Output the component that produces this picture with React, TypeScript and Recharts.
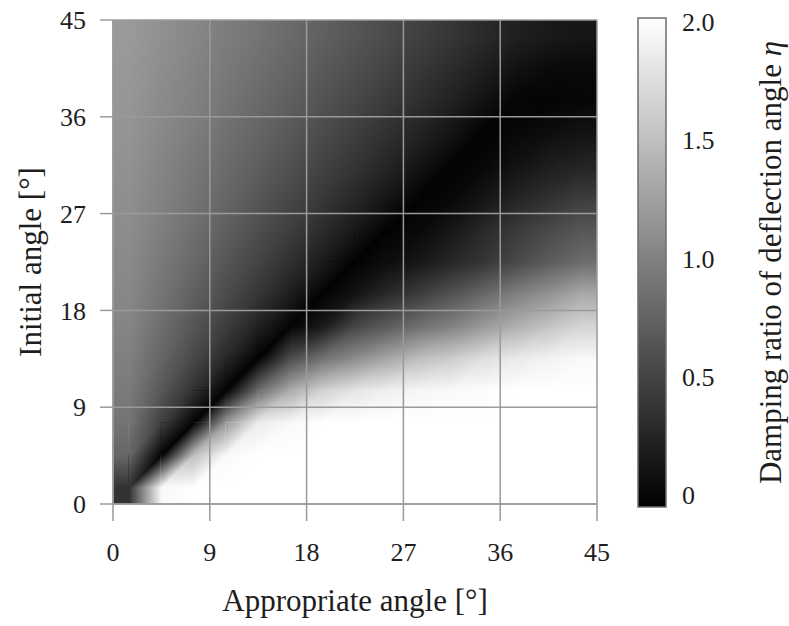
import { ComposedChart, Scatter, XAxis, YAxis, CartesianGrid, ReferenceArea } from "recharts";

// axis ticks (degrees)
const ANGLE_TICKS = [0, 9, 18, 27, 36, 45];
// sample positions, appropriate angle (x) and initial angle (y, top row first)
const CELL_X = [1.5, 4.5, 7.5, 10.5, 13.5, 16.5, 19.5, 22.5, 25.5, 28.5, 31.5, 34.5, 37.5, 40.5, 43.5];
const CELL_Y = [43.5, 40.5, 37.5, 34.5, 31.5, 28.5, 25.5, 22.5, 19.5, 16.5, 13.5, 10.5, 7.5, 4.5, 1.5];
// damping ratio, one row per CELL_Y
const ETA_ROWS = [
  [1.21, 1.13, 1.06, 0.98, 0.91, 0.83, 0.75, 0.67, 0.59, 0.5, 0.42, 0.33, 0.25, 0.2, 0.17],
  [1.19, 1.11, 1.03, 0.95, 0.87, 0.79, 0.7, 0.62, 0.53, 0.44, 0.34, 0.24, 0.14, 0.08, 0.07],
  [1.18, 1.09, 1.01, 0.92, 0.83, 0.74, 0.65, 0.56, 0.46, 0.36, 0.26, 0.14, 0.04, 0.03, 0.05],
  [1.16, 1.07, 0.98, 0.88, 0.79, 0.69, 0.59, 0.49, 0.38, 0.27, 0.15, 0.02, 0.06, 0.1, 0.15],
  [1.14, 1.04, 0.94, 0.84, 0.74, 0.63, 0.52, 0.41, 0.29, 0.16, 0.02, 0.06, 0.14, 0.22, 0.28],
  [1.12, 1.02, 0.91, 0.8, 0.68, 0.56, 0.44, 0.31, 0.17, 0.02, 0.06, 0.16, 0.28, 0.37, 0.47],
  [1.1, 0.99, 0.87, 0.74, 0.61, 0.48, 0.34, 0.19, 0.02, 0.07, 0.17, 0.32, 0.45, 0.57, 0.67],
  [1.08, 0.95, 0.82, 0.67, 0.53, 0.37, 0.21, 0.02, 0.1, 0.18, 0.3, 0.42, 0.57, 0.72, 0.85],
  [1.06, 0.91, 0.75, 0.59, 0.42, 0.23, 0.02, 0.15, 0.33, 0.48, 0.65, 0.82, 1.0, 1.15, 1.32],
  [1.04, 0.86, 0.67, 0.48, 0.26, 0.03, 0.2, 0.55, 0.72, 0.88, 1.02, 1.2, 1.38, 1.53, 1.67],
  [1.0, 0.79, 0.56, 0.31, 0.02, 0.6, 0.9, 1.1, 1.3, 1.5, 1.6, 1.75, 1.83, 1.9, 1.95],
  [0.96, 0.68, 0.38, 0.02, 0.85, 1.35, 1.65, 1.8, 1.88, 1.93, 1.96, 1.98, 2.0, 2.0, 2.0],
  [0.9, 0.5, 0.02, 1.2, 1.85, 1.95, 2.0, 2.0, 2.0, 2.0, 2.0, 2.0, 2.0, 2.0, 2.0],
  [0.8, 0.02, 1.5, 1.95, 2.0, 2.0, 2.0, 2.0, 2.0, 2.0, 2.0, 2.0, 2.0, 2.0, 2.0],
  [0.4, 1.95, 2.0, 2.0, 2.0, 2.0, 2.0, 2.0, 2.0, 2.0, 2.0, 2.0, 2.0, 2.0, 2.0],
];
// colour bar
const ETA_TICKS = [0, 0.5, 1, 1.5, 2];
const ETA_RANGE = [-0.051, 2.017];

// one entry per square between four neighbouring samples
const squares: any[] = [];
for (let r = 0; r < CELL_Y.length - 1; r++) {
  for (let c = 0; c < CELL_X.length - 1; c++) {
    squares.push({
      x: (CELL_X[c] + CELL_X[c + 1]) / 2,
      y: (CELL_Y[r] + CELL_Y[r + 1]) / 2,
      r,
      c,
      ul: ETA_ROWS[r][c],
      ur: ETA_ROWS[r][c + 1],
      ll: ETA_ROWS[r + 1][c],
      lr: ETA_ROWS[r + 1][c + 1],
    });
  }
}
const LAST = CELL_X.length - 2;

const W = 789;
const H = 626;
const PLOT = 484;
const CELL = (PLOT * 3) / 45; // px between samples
const SERIF = '"Liberation Serif", "Times New Roman", serif';
const TEXT = "#1e1e1e";
const LINE = "#9a9a9a";

const gray = (v: number) => {
  const g = Math.round((Math.max(0, Math.min(2, v)) / 2) * 255);
  return `rgb(${g},${g},${g})`;
};

// keep the part of a polygon where x + y <= k
const clipHalf = (pts: number[][], k: number) => {
  const out: number[][] = [];
  for (let i = 0; i < pts.length; i++) {
    const a = pts[i];
    const b = pts[(i + 1) % pts.length];
    const da = a[0] + a[1] - k;
    const db = b[0] + b[1] - k;
    if (da <= 0) out.push(a);
    if ((da < 0 && db > 0) || (da > 0 && db < 0)) {
      const t = da / (da - db);
      out.push([a[0] + t * (b[0] - a[0]), a[1] + t * (b[1] - a[1])]);
    }
  }
  return out;
};

// linear shading: value v0 at (px,py), slope (gx,gy) per px
const shade = (id: string, px: number, py: number, v0: number, gx: number, gy: number) => {
  const gg = gx * gx + gy * gy;
  if (gg < 1e-10) return { def: null, fill: gray(v0) };
  const a = -v0 / gg;
  const b = (2 - v0) / gg;
  return {
    def: (
      <linearGradient key={id} id={id} gradientUnits="userSpaceOnUse" x1={px + gx * a} y1={py + gy * a} x2={px + gx * b} y2={py + gy * b}>
        <stop offset="0" stopColor="#000" />
        <stop offset="1" stopColor="#fff" />
      </linearGradient>
    ),
    fill: `url(#${id})`,
  };
};

const HeatSquare = (props: any) => {
  const { cx, cy, payload: p } = props;
  const s = CELL;
  const x0 = cx - s / 2;
  const x1 = cx + s / 2;
  const yT = cy - s / 2;
  const yB = cy + s / 2;
  const pad = 24;
  const e = 0.6;
  const id = `${p.r}_${p.c}`;
  const upper = clipHalf([[x0 - e, yT - e], [x1 + e, yT - e], [x1 + e, yB + e], [x0 - e, yB + e]], x0 + yB);
  const A = shade(`hA${id}`, x0, yT, p.ul, (p.ur - p.ul) / s, (p.ll - p.ul) / s);
  const B = shade(`hB${id}`, x1, yB, p.lr, (p.lr - p.ll) / s, (p.lr - p.ur) / s);

  // edge samples are carried out to the plot border
  const defs = [A.def, B.def];
  const strips: any[] = [];
  const strip = (key: string, x: number, y: number, w: number, h: number, sh: any) => {
    defs.push(sh.def);
    strips.push(<rect key={key} x={x} y={y} width={w} height={h} fill={sh.fill} />);
  };
  if (p.c === 0) strip("l", x0 - pad, yT - e, pad + e, s + 2 * e, shade(`sL${id}`, x0, yT, p.ul, 0, (p.ll - p.ul) / s));
  if (p.c === LAST) strip("r", x1 - e, yT - e, pad + e, s + 2 * e, shade(`sR${id}`, x1, yT, p.ur, 0, (p.lr - p.ur) / s));
  if (p.r === 0) strip("t", x0 - e, yT - pad, s + 2 * e, pad + e, shade(`sT${id}`, x0, yT, p.ul, (p.ur - p.ul) / s, 0));
  if (p.r === LAST) strip("b", x0 - e, yB - e, s + 2 * e, pad + e, shade(`sB${id}`, x0, yB, p.ll, (p.lr - p.ll) / s, 0));
  if (p.c === 0 && p.r === 0) strips.push(<rect key="c1" x={x0 - pad} y={yT - pad} width={pad + e} height={pad + e} fill={gray(p.ul)} />);
  if (p.c === LAST && p.r === 0) strips.push(<rect key="c2" x={x1 - e} y={yT - pad} width={pad + e} height={pad + e} fill={gray(p.ur)} />);
  if (p.c === 0 && p.r === LAST) strips.push(<rect key="c3" x={x0 - pad} y={yB - e} width={pad + e} height={pad + e} fill={gray(p.ll)} />);
  if (p.c === LAST && p.r === LAST) strips.push(<rect key="c4" x={x1 - e} y={yB - e} width={pad + e} height={pad + e} fill={gray(p.lr)} />);

  return (
    <g>
      <defs>{defs}</defs>
      {strips}
      <rect x={x0 - e} y={yT - e} width={s + 2 * e} height={s + 2 * e} fill={B.fill} />
      <polygon points={upper.map((q) => q.join(",")).join(" ")} fill={A.fill} />
    </g>
  );
};

const tickStyle = { fill: TEXT, fontSize: 26, fontFamily: SERIF };

const XTitle = (props: any) => {
  const vb = props.viewBox;
  return (
    <text x={vb.x + vb.width / 2} y={611} textAnchor="middle" fill={TEXT} fontSize={31} fontFamily={SERIF}>
      Appropriate angle [°]
    </text>
  );
};

const YTitle = (props: any) => {
  const vb = props.viewBox;
  const cx = 30;
  const cy = vb.y + vb.height / 2;
  return (
    <text x={cx} y={cy} transform={`rotate(-90, ${cx}, ${cy})`} textAnchor="middle" dominantBaseline="central" fill={TEXT} fontSize={31} fontFamily={SERIF}>
      Initial angle [°]
    </text>
  );
};

const BarTitle = (props: any) => {
  const vb = props.viewBox;
  const cx = vb.x + vb.width - 19;
  const cy = vb.y + vb.height / 2;
  return (
    <text x={cx} y={cy} transform={`rotate(-90, ${cx}, ${cy})`} textAnchor="middle" dominantBaseline="central" fill={TEXT} fontSize={31} fontFamily={SERIF}>
      Damping ratio of deflection angle <tspan fontStyle="italic">η</tspan>
    </text>
  );
};

const layer = { position: "absolute" as const, left: 0, top: 0, width: W, height: H };

export default function App() {
  return (
    <div style={{ ...layer, background: "#fff", overflow: "hidden" }}>
      <svg width={0} height={0} style={{ position: "absolute" }}>
        <defs>
          <linearGradient id="etaScale" x1="0" y1="1" x2="0" y2="0">
            <stop offset="0%" stopColor="#000" />
            <stop offset="100%" stopColor="#fff" />
          </linearGradient>
        </defs>
      </svg>

      {/* heat map, clipped to the plot area */}
      <div style={{ ...layer, clipPath: "inset(20px 192px 122px 113px)" }}>
        <ComposedChart width={W} height={H} data={squares} margin={{ top: 20, right: 192, bottom: 122, left: 113 }}>
          <XAxis type="number" dataKey="x" domain={[0, 45]} hide />
          <YAxis type="number" dataKey="y" domain={[0, 45]} hide />
          <Scatter data={squares} shape={HeatSquare} isAnimationActive={false} />
        </ComposedChart>
      </div>

      {/* grid, axes and titles on top */}
      <div style={layer}>
        <ComposedChart width={W} height={H} data={squares} margin={{ top: 20, right: 192, bottom: 0, left: 0 }}>
          <CartesianGrid stroke={LINE} strokeWidth={1.5} fill="none" />
          <XAxis
            type="number"
            dataKey="x"
            domain={[0, 45]}
            ticks={ANGLE_TICKS}
            height={122}
            tickSize={17}
            tickMargin={22}
            stroke={LINE}
            strokeWidth={1.5}
            tick={tickStyle}
            label={{ content: XTitle }}
          />
          <YAxis
            type="number"
            dataKey="y"
            domain={[0, 45]}
            ticks={ANGLE_TICKS}
            width={113}
            tickSize={13}
            tickMargin={14}
            stroke={LINE}
            strokeWidth={1.5}
            tick={tickStyle}
            label={{ content: YTitle }}
          />
          <Scatter data={squares} shape={() => <g />} isAnimationActive={false} />
        </ComposedChart>
      </div>

      {/* colour bar */}
      <div style={layer}>
        <ComposedChart width={W} height={H} data={[{ x: 0 }, { x: 1 }]} margin={{ top: 18, right: 0, bottom: 119, left: 638 }}>
          <XAxis type="number" dataKey="x" domain={[0, 1]} hide />
          <YAxis
            orientation="right"
            type="number"
            domain={ETA_RANGE}
            allowDataOverflow
            ticks={ETA_TICKS}
            width={123}
            tickLine={false}
            axisLine={false}
            tickSize={0}
            tickMargin={16}
            tick={tickStyle}
            tickFormatter={(v: number) => (v === 0 ? "0" : v.toFixed(1))}
            label={{ content: BarTitle }}
          />
          <ReferenceArea
            x1={0}
            x2={1}
            y1={ETA_RANGE[0]}
            y2={ETA_RANGE[1]}
            fill="url(#etaScale)"
            fillOpacity={1}
            stroke="#6e6e6e"
            strokeWidth={1.5}
            ifOverflow="visible"
          />
        </ComposedChart>
      </div>
    </div>
  );
}
